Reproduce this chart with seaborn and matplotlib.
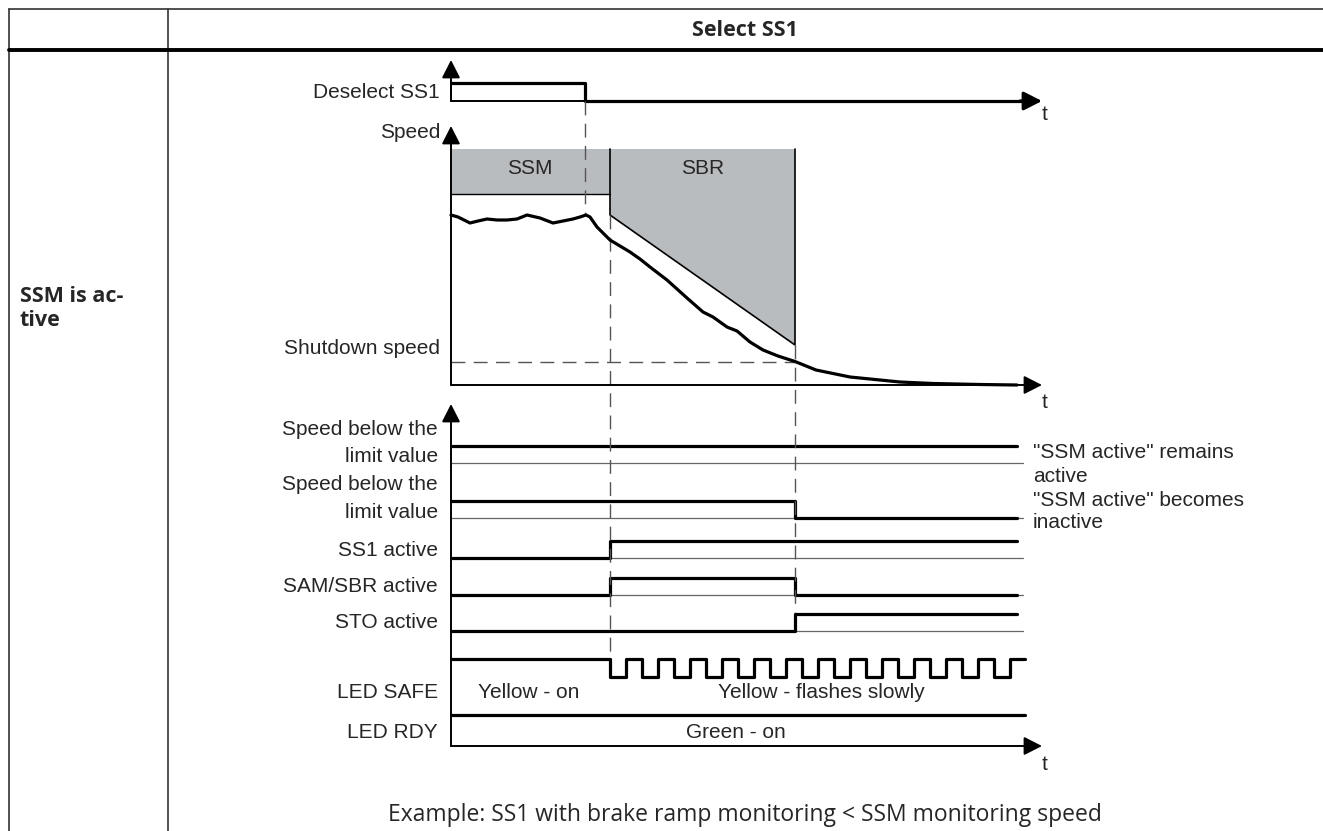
import matplotlib
matplotlib.use("Agg")
import matplotlib.pyplot as plt
import seaborn as sns
import pandas as pd

# ---- data (pixel units of the drawing, x = time, y = level position) ----
t_origin = 451
t_deselect = 585
t_sbr_start = 610
t_sbr_end = 795
t_sig_end = 1017
t_axis_end = 1042

# Deselect SS1 signal
desel_t = [451, 585, 1027]
desel_v = [1, 0, 0]

# speed curve
speed_t = [451, 458, 470, 478, 487, 497, 507, 517, 527, 540, 553, 563, 573, 580, 586,
           590, 597, 604, 610, 620, 630, 640, 650, 667, 687, 703, 713, 727, 737, 750,
           763, 778, 795, 816, 850, 900, 933, 980, 1017]
speed_y = [215, 217, 223, 221, 219, 220, 220, 219, 215, 218, 223, 221, 219, 217, 215,
           217, 227, 234, 240, 246, 252, 259, 267, 280, 298, 312, 317, 327, 331, 342,
           350, 356, 361.5, 370, 377, 382, 383.5, 384.5, 385]

# monitoring areas
ssm_t = [451, 610]
ssm_top, ssm_bottom = 149, 194
sbr_t = [610, 795, 795, 610]
sbr_y = [149, 149, 345, 215]
shutdown_y = 362

# status signals
sig_t = [451, 610, 795, 1017]
sig_rows = [("Speed below the", "limit value"), ("Speed below the", "limit value"),
            ("SS1 active",), ("SAM/SBR active",), ("STO active",)]
sig_base = [462.5, 518, 558, 595, 631]
sig_vals = [[1, 1, 1, 1],
            [1, 1, 0, 0],
            [0, 1, 1, 1],
            [0, 1, 0, 0],
            [0, 0, 1, 1]]

# LED SAFE flashing
flash_t = [451, 610, 626, 642, 658, 674, 690, 706, 722, 738, 754, 770, 786, 802,
           818, 834, 850, 866, 882, 898, 914, 930, 946, 962, 978, 994, 1010, 1025]
flash_v = [1, 0, 1, 0, 1, 0, 1, 0, 1, 0, 1, 0, 1, 0,
           1, 0, 1, 0, 1, 0, 1, 0, 1, 0, 1, 0, 1, 1]

notes = ['"SSM active" remains', 'active', '"SSM active" becomes', 'inactive']
notes_y = [452, 476, 500, 523]

# ---- style ----
sns.set_theme(style="white")
plt.rcParams['font.family'] = ['Liberation Sans', 'DejaVu Sans']
DIA = dict(fontsize=15, family=['Liberation Sans', 'DejaVu Sans'])
TAB = ['Open Sans', 'DejaVu Sans']
GRAY = '#b9bcbf'
THICK = 2.3
DASH = dict(color='#555555', lw=1.0, linestyle=(0, (10, 6)))

fig = plt.figure(figsize=(13.23, 8.31), dpi=100)
ax = fig.add_axes([0, 0, 1, 1])

# ---- table frame ----
ax.plot([9, 1323], [9, 9], color='#333333', lw=1.2)
ax.plot([9, 9], [9, 831], color='#333333', lw=1.2)
ax.plot([168, 168], [9, 831], color='#333333', lw=1.2)
ax.plot([9, 1323], [50, 50], color='black', lw=2.8)
ax.text(745, 30, "Select SS1", ha='center', va='center', fontsize=15.5,
        fontweight='bold', family=TAB)
ax.text(20, 297, "SSM is ac-", ha='left', va='center', fontsize=15.5,
        fontweight='bold', family=TAB)
ax.text(20, 321, "tive", ha='left', va='center', fontsize=15.5,
        fontweight='bold', family=TAB)
ax.text(745, 815, "Example: SS1 with brake ramp monitoring < SSM monitoring speed",
        ha='center', va='center', fontsize=16.5, family=TAB)

def arrow(x0, y0, x1, y1, lw=1.4):
    ax.annotate("", xy=(x1, y1), xytext=(x0, y0),
                arrowprops=dict(arrowstyle='-|>,head_length=0.55,head_width=0.28',
                                mutation_scale=20, color='black', lw=lw,
                                shrinkA=0, shrinkB=0))

# ---- Deselect SS1 ----
arrow(t_origin, 101, t_origin, 60)
arrow(1020, 101, t_axis_end, 101, lw=THICK)
ax.plot([t_origin, t_deselect], [101, 101], color='black', lw=1.4)
ax.step(desel_t, [101 - 18 * v for v in desel_v], where='post', color='black', lw=THICK)
ax.plot([t_origin, t_origin], [83, 101], color='black', lw=1.4)
ax.text(440, 92, "Deselect SS1", ha='right', va='center', **DIA)
ax.text(1042, 114, "t", ha='left', va='center', **DIA)

# ---- Speed diagram ----
ax.fill_between(ssm_t, ssm_top, ssm_bottom, color=GRAY, lw=0)
ax.plot(ssm_t, [ssm_bottom, ssm_bottom], color='black', lw=1.0)
ax.fill(sbr_t, sbr_y, color=GRAY, lw=0)
ax.plot([610, 610, 795, 795], [149, 215, 345, 149], color='black', lw=1.2)
ax.text(530, 169, "SSM", ha='center', va='center', **DIA)
ax.text(703, 169, "SBR", ha='center', va='center', **DIA)

ax.plot([t_deselect, t_deselect], [101, 215], zorder=3, **DASH)
ax.plot([t_sbr_start, t_sbr_start], [215, 655], zorder=3, **DASH)
ax.plot([t_sbr_end, t_sbr_end], [345, 612], zorder=3, **DASH)
ax.plot([t_origin, t_sbr_end], [shutdown_y, shutdown_y], zorder=3, **DASH)

arrow(t_origin, 385, t_origin, 126)
arrow(t_origin, 385, t_axis_end, 385, lw=1.4)
speed_df = pd.DataFrame({"t": speed_t, "v": speed_y})
sns.lineplot(data=speed_df, x="t", y="v", ax=ax, color='black', lw=THICK,
             estimator=None, sort=False, zorder=4)
ax.text(440, 133, "Speed", ha='right', va='center', **DIA)
ax.text(440, 349, "Shutdown speed", ha='right', va='center', **DIA)
ax.text(1042, 402, "t", ha='left', va='center', **DIA)

# ---- status signals ----
arrow(t_origin, 746, t_origin, 404)
for label, base, vals in zip(sig_rows, sig_base, sig_vals):
    ax.plot([t_origin, 1023], [base, base], color='#666666', lw=0.9)
    ax.step(sig_t, [base - 17 * v for v in vals], where='post', color='black', lw=THICK)
    if len(label) == 2:
        ax.text(438, base - 33, label[0], ha='right', va='center', **DIA)
        ax.text(438, base - 6, label[1], ha='right', va='center', **DIA)
    else:
        ax.text(438, base - 8, label[0], ha='right', va='center', **DIA)

for note, ny in zip(notes, notes_y):
    ax.text(1033, ny, note, ha='left', va='center', **DIA)

# ---- LEDs ----
ax.step(flash_t, [677 - 18 * v for v in flash_v], where='post', color='black', lw=THICK)
ax.text(438, 693, "LED SAFE", ha='right', va='center', **DIA)
ax.text(478, 693, "Yellow - on", ha='left', va='center', **DIA)
ax.text(821, 693, "Yellow - flashes slowly", ha='center', va='center', **DIA)

ax.plot([t_origin, 1025], [715, 715], color='black', lw=THICK)
arrow(t_origin, 746, t_axis_end, 746, lw=1.4)
ax.text(438, 732, "LED RDY", ha='right', va='center', **DIA)
ax.text(736, 732, "Green - on", ha='center', va='center', **DIA)
ax.text(1042, 764, "t", ha='left', va='center', **DIA)

ax.set_xlim(0, 1323)
ax.set_ylim(831, 0)
ax.axis('off')

fig.savefig("out.png", dpi=100, facecolor='white')
